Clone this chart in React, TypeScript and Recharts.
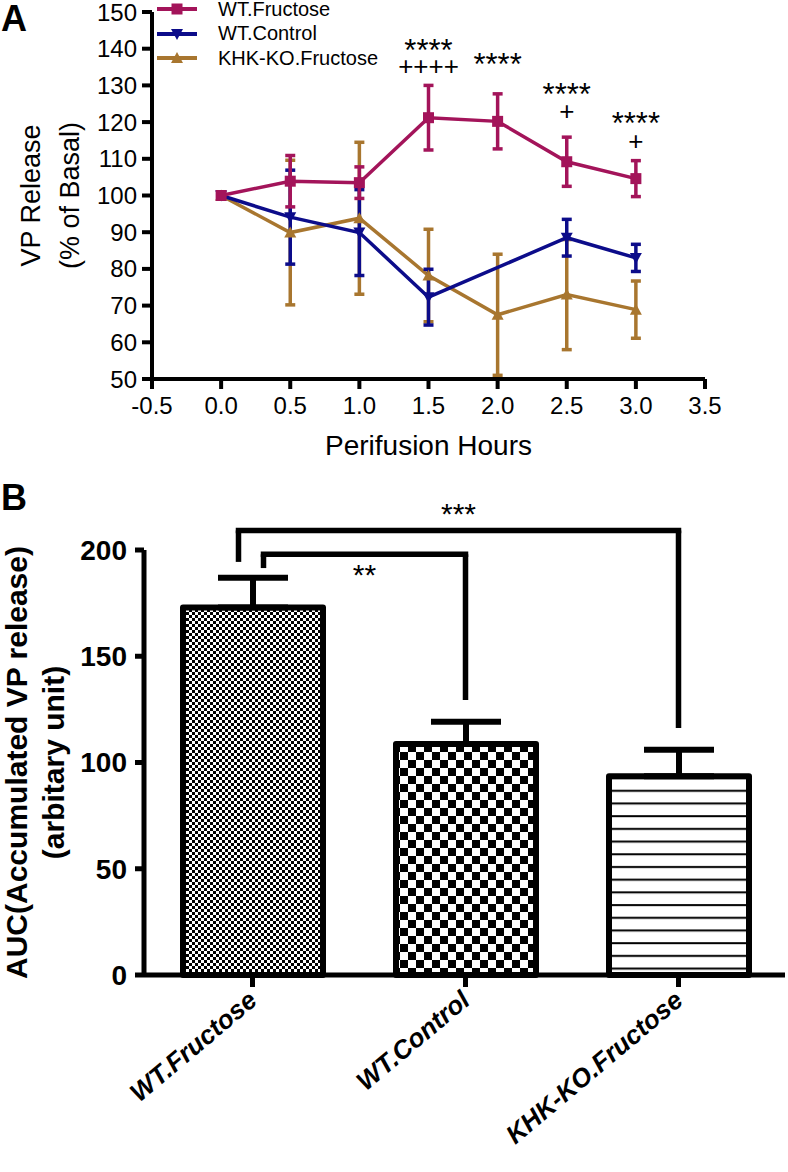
import React from "react";
import {
  Bar,
  BarChart,
  Cell,
  ErrorBar,
  Label,
  Legend,
  Line,
  LineChart,
  ReferenceDot,
  ReferenceLine,
  XAxis,
  YAxis,
} from "recharts";

// ---- Panel A: VP release during perifusion (% of basal) ----
const hours = [0, 0.5, 1, 1.5, 2, 2.5, 3];
const wtFructose = [100, 103.9, 103.5, 121.2, 120.2, 109.2, 104.6];
const wtFructoseSem = [null, 7, 4.3, 8.8, 7.5, 6.7, 4.9];
const wtControl = [100, 94.1, 89.9, 72.3, null, 88.5, 83];
const wtControlSem = [null, 12.8, 11.7, 7.6, null, 5, 3.7];
const khkFructose = [100, 89.9, 93.8, 78.2, 67.5, 73, 68.9];
const khkFructoseSem = [null, 19.7, 20.7, 12.6, 16.5, 15, 7.8];

const hourTicks = [-0.5, 0, 0.5, 1, 1.5, 2, 2.5, 3, 3.5];
const releaseTicks = [50, 60, 70, 80, 90, 100, 110, 120, 130, 140, 150];

// significance marks drawn above the WT.Fructose points
const sigHours = [1.5, 1.5, 2, 2.5, 2.5, 3, 3];
const sigLevels = [141.4, 135.2, 137.7, 129.6, 123, 121.7, 114.8];
const sigMarks = ["****", "++++", "****", "****", "+", "****", "+"];

// ---- Panel B: AUC of accumulated VP release ----
const groups = ["WT.Fructose", "WT.Control", "KHK-KO.Fructose"];
const aucMeans = [173, 108.7, 93.5];
const aucSem = [14, 10.5, 12.5];
const aucTicks = [0, 50, 100, 150, 200];

// comparison brackets (all start from WT.Fructose)
const bracketTo = ["KHK-KO.Fructose", "WT.Control"];
const bracketTop = [209.2, 198];
const bracketFromEnd = [194.4, 191.5];
const bracketToEnd = [116.2, 129.4];
const bracketMarks = ["***", "**"];

const FONT = "'Liberation Sans', Arial, Helvetica, sans-serif";
const RED = "#A3145A";
const NAVY = "#0C0C8A";
const BROWN = "#A8762F";

const lineRows = hours.map((h, i) => ({
  hour: h,
  wtFru: wtFructose[i],
  wtFruSem: wtFructoseSem[i],
  wtCtl: wtControl[i],
  wtCtlSem: wtControlSem[i],
  khk: khkFructose[i],
  khkSem: khkFructoseSem[i],
}));

const barRows = groups.map((g, i) => ({
  group: g,
  auc: aucMeans[i],
  sem: [0, aucSem[i]],
}));

// marker shapes used by the line series and the legend
const Marker = ({ kind, cx, cy, color }: any) => {
  if (cx == null || cy == null) return <g />;
  if (kind === "square")
    return <rect x={cx - 5.5} y={cy - 5.5} width={11} height={11} fill={color} />;
  if (kind === "down")
    return (
      <polygon
        points={`${cx - 6},${cy - 5} ${cx + 6},${cy - 5} ${cx},${cy + 6}`}
        fill={color}
      />
    );
  return (
    <polygon
      points={`${cx - 6},${cy + 5} ${cx + 6},${cy + 5} ${cx},${cy - 6}`}
      fill={color}
    />
  );
};

const series = [
  { key: "wtFru", name: "WT.Fructose", color: RED, kind: "square" },
  { key: "wtCtl", name: "WT.Control", color: NAVY, kind: "down" },
  { key: "khk", name: "KHK-KO.Fructose", color: BROWN, kind: "up" },
];

const renderLegend = () => (
  <div style={{ fontSize: 20, color: "#000", fontFamily: FONT }}>
    {series.map((s) => (
      <div
        key={s.key}
        style={{ display: "flex", alignItems: "center", height: 24.5 }}
      >
        <svg width={40} height={16}>
          <line x1={0} y1={8} x2={40} y2={8} stroke={s.color} strokeWidth={4} />
          <Marker kind={s.kind} cx={20} cy={8} color={s.color} />
        </svg>
        <span style={{ marginLeft: 21 }}>{s.name}</span>
      </div>
    ))}
  </div>
);

const SigText = ({ cx, cy, mark }: any) => {
  const star = mark.startsWith("*");
  const size = star ? 31 : 26;
  // shift baseline so the glyphs sit centred on the level
  const dy = star ? 0.57 * size : 0.33 * size;
  return (
    <text x={cx} y={cy + dy} textAnchor="middle" fontSize={size} fill="#000">
      {mark}
    </text>
  );
};

const AucTick = ({ x, y, payload }: any) => {
  const ax = x + 6;
  const ay = y + 14;
  return (
    <text
      x={ax}
      y={ay}
      transform={`rotate(-40, ${ax}, ${ay})`}
      textAnchor="end"
      fontSize={26}
      fontWeight={700}
      fontStyle="italic"
      fill="#000"
    >
      {payload.value}
    </text>
  );
};

const PanelLetter = ({ top, text }: { top: number; text: string }) => (
  <div
    style={{
      position: "absolute",
      left: 1,
      top,
      fontSize: 36,
      fontWeight: 700,
      lineHeight: 1,
    }}
  >
    {text}
  </div>
);

const App = () => {
  const axisA = { stroke: "#000", strokeWidth: 4 };
  const axisB = { stroke: "#000", strokeWidth: 5 };

  return (
    <div
      style={{
        position: "absolute",
        left: 0,
        top: 0,
        width: 788,
        height: 1172,
        background: "#fff",
        fontFamily: FONT,
        color: "#000",
      }}
    >
      <PanelLetter top={1} text="A" />
      <PanelLetter top={480} text="B" />

      {/* Panel A */}
      <div style={{ position: "absolute", left: 0, top: 0 }}>
        <LineChart
          width={788}
          height={480}
          data={lineRows}
          margin={{ top: 12, right: 83, bottom: 41, left: 0 }}
        >
          <XAxis
            dataKey="hour"
            type="number"
            domain={[-0.5, 3.5]}
            ticks={hourTicks}
            interval={0}
            tickFormatter={(v: number) => v.toFixed(1)}
            axisLine={axisA}
            tickLine={axisA}
            tickSize={10}
            tickMargin={8}
            tick={{ fill: "#000", fontSize: 24 }}
            height={60}
          >
            <Label
              content={({ viewBox }: any) => (
                <text
                  x={viewBox.x + viewBox.width / 2}
                  y={viewBox.y + 76}
                  textAnchor="middle"
                  fontSize={28}
                  fill="#000"
                >
                  Perifusion Hours
                </text>
              )}
            />
          </XAxis>
          <YAxis
            type="number"
            domain={[50, 150]}
            ticks={releaseTicks}
            interval={0}
            width={152}
            axisLine={axisA}
            tickLine={axisA}
            tickSize={10}
            tickMargin={5}
            tick={{ fill: "#000", fontSize: 24 }}
          >
            <Label
              content={({ viewBox }: any) => {
                const cy = viewBox.y + viewBox.height / 2;
                return (
                  <g>
                    <text
                      x={31}
                      y={cy}
                      transform={`rotate(-90, 31, ${cy})`}
                      textAnchor="middle"
                      dominantBaseline="central"
                      fontSize={27}
                      fill="#000"
                    >
                      VP Release
                    </text>
                    <text
                      x={70}
                      y={cy}
                      transform={`rotate(-90, 70, ${cy})`}
                      textAnchor="middle"
                      dominantBaseline="central"
                      fontSize={27}
                      fill="#000"
                    >
                      (% of Basal)
                    </text>
                  </g>
                );
              }}
            />
          </YAxis>
          <Legend
            layout="vertical"
            align="center"
            verticalAlign="middle"
            wrapperStyle={{ top: -3, left: 157, width: 260 }}
            content={renderLegend}
          />

          {[...series].reverse().map((s) => (
            <Line
              key={s.key}
              dataKey={s.key}
              name={s.name}
              stroke={s.color}
              strokeWidth={3.5}
              connectNulls
              isAnimationActive={false}
              dot={(p: any) => (
                <Marker
                  key={`${s.key}-${p.index}`}
                  kind={s.kind}
                  cx={p.cx}
                  cy={p.cy}
                  color={s.color}
                />
              )}
              activeDot={false}
            >
              <ErrorBar
                dataKey={`${s.key}Sem`}
                direction="y"
                width={5}
                stroke={s.color}
                strokeWidth={3.5}
              />
            </Line>
          ))}

          {sigMarks.map((m, i) => (
            <ReferenceDot
              key={`sig-${i}`}
              x={sigHours[i]}
              y={sigLevels[i]}
              r={0}
              ifOverflow="visible"
              shape={(p: any) => <SigText cx={p.cx} cy={p.cy} mark={m} />}
            />
          ))}
        </LineChart>
      </div>

      {/* Panel B */}
      <div style={{ position: "absolute", left: 0, top: 480 }}>
        <BarChart
          width={788}
          height={692}
          data={barRows}
          margin={{ top: 70, right: 3, bottom: 47, left: 0 }}
          barSize={140}
        >
          <defs>
            <pattern id="chkFine" width={6} height={6} patternUnits="userSpaceOnUse">
              <rect width={6} height={6} fill="#fff" />
              <rect width={3} height={3} fill="#000" />
              <rect x={3} y={3} width={3} height={3} fill="#000" />
            </pattern>
            <pattern id="chkCoarse" width={16} height={16} patternUnits="userSpaceOnUse">
              <rect width={16} height={16} fill="#fff" />
              <rect width={8} height={8} fill="#000" />
              <rect x={8} y={8} width={8} height={8} fill="#000" />
            </pattern>
            <pattern id="hLines" width={12} height={12.7} patternUnits="userSpaceOnUse">
              <rect width={12} height={12.7} fill="#fff" />
              <rect y={5} width={12} height={2} fill="#000" />
            </pattern>
          </defs>
          <XAxis
            dataKey="group"
            interval={0}
            height={150}
            padding={{ left: 2, right: 0 }}
            axisLine={axisB}
            tickLine={axisB}
            tickSize={12}
            tick={<AucTick />}
          />
          <YAxis
            domain={[0, 200]}
            ticks={aucTicks}
            interval={0}
            width={144}
            axisLine={axisB}
            tickLine={axisB}
            tickSize={9}
            tickMargin={8}
            tick={{ fill: "#000", fontSize: 28, fontWeight: 700 }}
          >
            <Label
              content={({ viewBox }: any) => {
                const cy = viewBox.y + viewBox.height / 2;
                return (
                  <g>
                    <text
                      x={16}
                      y={cy}
                      transform={`rotate(-90, 16, ${cy})`}
                      textAnchor="middle"
                      dominantBaseline="central"
                      fontSize={30}
                      fontWeight={700}
                      fill="#000"
                    >
                      AUC(Accumulated VP release)
                    </text>
                    <text
                      x={53}
                      y={cy}
                      transform={`rotate(-90, 53, ${cy})`}
                      textAnchor="middle"
                      dominantBaseline="central"
                      fontSize={30}
                      fontWeight={700}
                      fill="#000"
                    >
                      (arbitary unit)
                    </text>
                  </g>
                );
              }}
            />
          </YAxis>
          <Bar
            dataKey="auc"
            stroke="#000"
            strokeWidth={6}
            strokeLinejoin="round"
            isAnimationActive={false}
          >
            {groups.map((g, i) => (
              <Cell key={g} fill={`url(#${["chkFine", "chkCoarse", "hLines"][i]})`} />
            ))}
            <ErrorBar dataKey="sem" direction="y" width={35} stroke="#000" strokeWidth={6} />
          </Bar>

          {bracketTo.flatMap((to, i) => {
            const legDx = [-14, 11][i];
            const labelDy = [-6, 31][i];
            const line = { stroke: "#000", strokeWidth: 5.5 };
            return [
              <ReferenceLine
                key={`bl-${i}`}
                ifOverflow="visible"
                segment={[
                  { x: groups[0], y: bracketFromEnd[i] },
                  { x: groups[0], y: bracketTop[i] },
                ]}
                shape={(p: any) => (
                  <line x1={p.x1 + legDx} y1={p.y1} x2={p.x2 + legDx} y2={p.y2} {...line} />
                )}
              />,
              <ReferenceLine
                key={`bt-${i}`}
                ifOverflow="visible"
                segment={[
                  { x: groups[0], y: bracketTop[i] },
                  { x: to, y: bracketTop[i] },
                ]}
                shape={(p: any) => (
                  <g>
                    <line
                      x1={p.x1 + legDx}
                      y1={p.y1}
                      x2={p.x2}
                      y2={p.y2}
                      strokeLinecap="square"
                      {...line}
                    />
                    <text
                      x={(p.x1 + legDx + p.x2) / 2}
                      y={p.y1 + labelDy}
                      textAnchor="middle"
                      fontSize={30}
                      fill="#000"
                    >
                      {bracketMarks[i]}
                    </text>
                  </g>
                )}
              />,
              <ReferenceLine
                key={`br-${i}`}
                ifOverflow="visible"
                segment={[
                  { x: to, y: bracketTop[i] },
                  { x: to, y: bracketToEnd[i] },
                ]}
                shape={(p: any) => (
                  <line x1={p.x1} y1={p.y1} x2={p.x2} y2={p.y2} {...line} />
                )}
              />,
            ];
          })}
        </BarChart>
      </div>
    </div>
  );
};

export default App;
